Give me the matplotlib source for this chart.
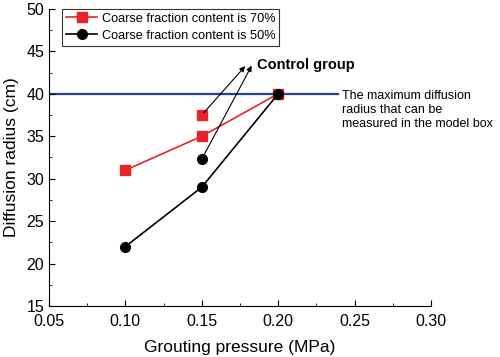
import matplotlib.pyplot as plt
from matplotlib.ticker import MultipleLocator

plt.rcParams['font.family'] = ['Liberation Sans', 'DejaVu Sans']

# data
pressure = [0.10, 0.15, 0.20]
radius_70 = [31, 35, 40]
radius_50 = [22, 29, 40]
control_x = 0.15
control_70 = 37.5
control_50 = 32.3
max_radius = 40

fig = plt.figure(figsize=(5, 3.57), dpi=100)
ax = fig.add_axes([0.098, 0.143, 0.764, 0.832])

ax.plot([0.05, 0.239], [max_radius, max_radius], color='#2b3a9c', lw=1.6, zorder=1)
ax.plot(pressure, radius_70, color='#e8232a', marker='s', ms=6.5, lw=1.2,
        label='Coarse fraction content is 70%', zorder=3)
ax.plot(pressure, radius_50, color='black', marker='o', ms=7, lw=1.2,
        label='Coarse fraction content is 50%', zorder=3)
ax.plot([control_x], [control_70], color='#e8232a', marker='s', ms=6.5, zorder=3)
ax.plot([control_x], [control_50], color='black', marker='o', ms=7, zorder=3)

ax.annotate('', xy=(0.1796, 43.5), xytext=(control_x, control_70),
            arrowprops=dict(arrowstyle='-|>', color='black', lw=0.8, mutation_scale=8))
ax.annotate('', xy=(0.1835, 43.6), xytext=(control_x, control_50),
            arrowprops=dict(arrowstyle='-|>', color='black', lw=0.8, mutation_scale=8))
ax.text(0.186, 43.4, 'Control group', fontsize=10.5, fontweight='semibold', va='center', ha='left')
ax.text(0.2415, 40.5, 'The maximum diffusion\nradius that can be\nmeasured in the model box',
        fontsize=9, va='top', ha='left', linespacing=1.25, clip_on=False)

ax.set_xlim(0.05, 0.30)
ax.set_ylim(15, 50)
ax.xaxis.set_major_locator(MultipleLocator(0.05))
ax.xaxis.set_minor_locator(MultipleLocator(0.025))
ax.yaxis.set_major_locator(MultipleLocator(5))
ax.yaxis.set_minor_locator(MultipleLocator(2.5))
ax.set_xticklabels([f'{v:.2f}' for v in ax.get_xticks()])
ax.tick_params(which='both', direction='in', labelsize=11.5)
ax.tick_params(which='major', length=4)
ax.tick_params(which='minor', length=2.5)
ax.tick_params(axis='x', pad=6)
ax.spines['top'].set_visible(False)
ax.spines['right'].set_visible(False)
ax.set_xlabel('Grouting pressure (MPa)', fontsize=12.5, labelpad=8)
ax.set_ylabel('Diffusion radius (cm)', fontsize=12.5, labelpad=5)

leg = ax.legend(loc='upper left', bbox_to_anchor=(0.035, 1.0), fontsize=9.2, frameon=True,
                fancybox=False, edgecolor='black', borderaxespad=0.0, handlelength=2.4,
                borderpad=0.3, labelspacing=0.4, handletextpad=0.4)
leg.get_frame().set_linewidth(0.8)

fig.savefig('out.png', dpi=100)
